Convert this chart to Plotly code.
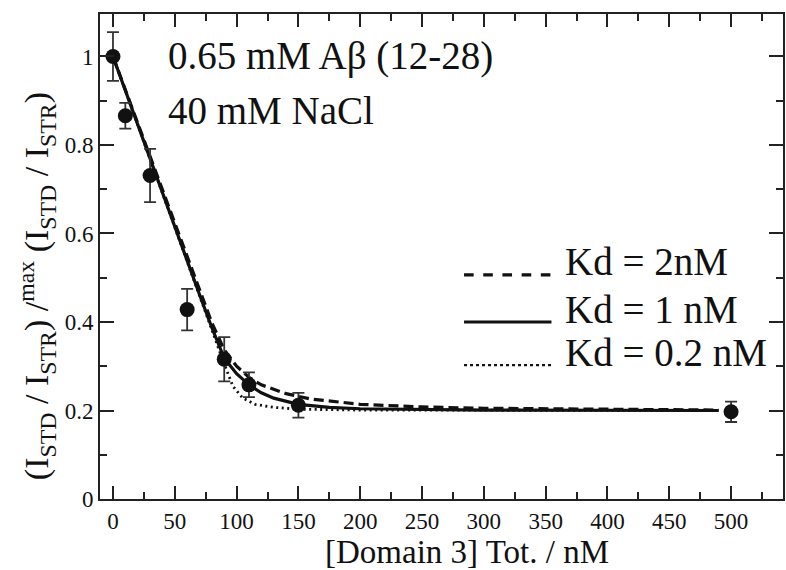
import plotly.graph_objects as go

# ---- data ----
conc = [0, 10, 30, 60, 90, 110, 150, 500]
ratio = [1.0, 0.866, 0.731, 0.428, 0.316, 0.258, 0.212, 0.197]
ratio_err = [0.055, 0.029, 0.06, 0.047, 0.05, 0.028, 0.028, 0.023]

kd2_x = [0, 20, 40, 60, 70, 80, 90, 100, 110, 120, 140, 160, 200, 250, 300, 400, 490]
kd2_y = [1.0, 0.85, 0.70, 0.545, 0.47, 0.398, 0.337, 0.30, 0.275, 0.258, 0.238, 0.226, 0.214, 0.208, 0.205, 0.202, 0.201]

kd1_x = [0, 20, 40, 60, 70, 80, 90, 100, 110, 120, 130, 150, 175, 200, 300, 490]
kd1_y = [1.0, 0.845, 0.695, 0.54, 0.462, 0.387, 0.318, 0.283, 0.258, 0.24, 0.228, 0.214, 0.207, 0.204, 0.201, 0.2]

kd02_x = [0, 40, 60, 80, 90, 97, 105, 115, 130, 150, 200, 490]
kd02_y = [1.0, 0.69, 0.535, 0.378, 0.305, 0.255, 0.228, 0.214, 0.207, 0.203, 0.201, 0.2]

legend_labels = ["Kd = 2nM", "Kd = 1 nM", "Kd = 0.2 nM"]
note_lines = ["0.65 mM Aβ (12-28)", "40 mM NaCl"]
x_title = "[Domain 3] Tot. / nM"
y_title = "(I<sub>STD</sub> / I<sub>STR</sub>) /<sup>max</sup> (I<sub>STD</sub> / I<sub>STR</sub>)"

FONT = "Liberation Serif, Times New Roman, serif"
INK = "#111111"

fig = go.Figure()

fig.add_trace(go.Scatter(x=kd2_x, y=kd2_y, mode="lines",
                         line=dict(color=INK, width=3.2, dash="10px,5px"),
                         showlegend=False, hoverinfo="skip"))
fig.add_trace(go.Scatter(x=kd1_x, y=kd1_y, mode="lines",
                         line=dict(color=INK, width=3.2),
                         showlegend=False, hoverinfo="skip"))
fig.add_trace(go.Scatter(x=kd02_x, y=kd02_y, mode="lines",
                         line=dict(color=INK, width=2.8, dash="2px,3.5px"),
                         showlegend=False, hoverinfo="skip"))
fig.add_trace(go.Scatter(x=conc, y=ratio, mode="markers",
                         marker=dict(color=INK, size=15, symbol="circle"),
                         error_y=dict(type="data", array=ratio_err, visible=True,
                                      color="#333333", thickness=1.8, width=6),
                         cliponaxis=False, showlegend=False))

axis_common = dict(showline=True, linecolor="#222222", linewidth=2,
                   mirror="ticks", ticks="inside", tickcolor="#222222",
                   tickwidth=2, showgrid=False, zeroline=False,
                   tickfont=dict(family=FONT, size=23, color=INK))

fig.update_xaxes(range=[-10.5, 542], tick0=0, dtick=50, ticklen=13,
                 minor=dict(dtick=25, ticks="inside", ticklen=7, tickwidth=2,
                            tickcolor="#222222", showgrid=False),
                 **axis_common)
fig.update_yaxes(range=[0, 1.096], tick0=0, dtick=0.2, ticklen=14,
                 minor=dict(dtick=0.1, ticks="inside", ticklen=7, tickwidth=2,
                            tickcolor="#222222", showgrid=False),
                 **axis_common)

# manual legend
leg_y = [0.462, 0.365, 0.276]
leg_txt_y = [0.4887, 0.3897, 0.303]
dashes = ["dash", "solid", "dot"]
widths = [3.2, 3.2, 2.2]
for lbl, ly, ty, dsh, w in zip(legend_labels, leg_y, leg_txt_y, dashes, widths):
    fig.add_shape(type="line", xref="paper", yref="paper", x0=0.533, x1=0.661,
                  y0=ly, y1=ly, line=dict(color=INK, width=w, dash=dsh))
    fig.add_annotation(text=lbl, xref="paper", yref="paper", x=0.678, y=ty,
                       xanchor="left", yanchor="middle", showarrow=False,
                       font=dict(family=FONT, size=39, color=INK))

# note text
for line_txt, ypix in zip(note_lines, [56, 111]):
    fig.add_annotation(text=line_txt, xref="paper", yref="paper",
                       x=(166 - 100) / 685, y=(499 - ypix) / 485, xanchor="left",
                       yanchor="middle", showarrow=False,
                       font=dict(family=FONT, size=39, color=INK))

# axis titles
fig.add_annotation(text=x_title, xref="paper", yref="paper",
                   x=(468 - 100) / 685, y=(499 - 552) / 485, xanchor="center",
                   yanchor="middle", showarrow=False,
                   font=dict(family=FONT, size=33, color=INK))
fig.add_annotation(text=y_title, xref="paper", yref="paper",
                   x=(36 - 100) / 685, y=(499 - 286) / 485, xanchor="center",
                   yanchor="middle", textangle=-90, showarrow=False,
                   font=dict(family=FONT, size=34, color=INK))

fig.update_layout(width=786, height=570,
                  margin=dict(l=100, r=1, t=14, b=71),
                  paper_bgcolor="white", plot_bgcolor="white",
                  font=dict(family=FONT, color=INK))

fig.write_html("out.html")
